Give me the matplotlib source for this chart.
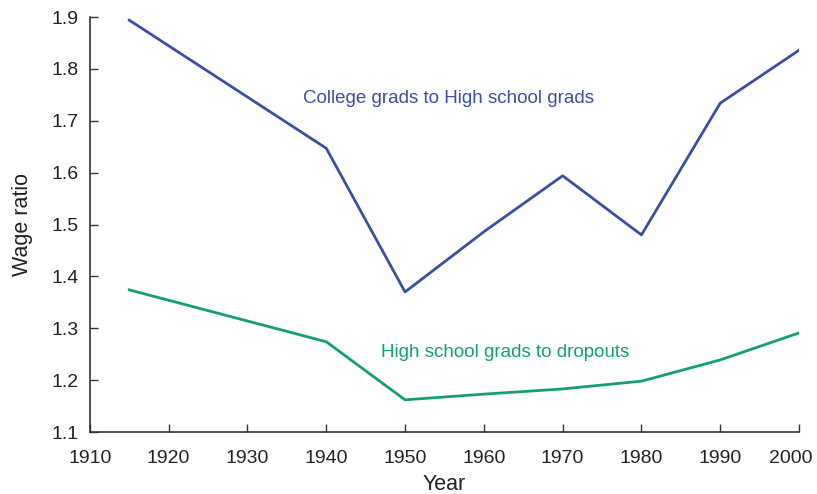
import matplotlib.pyplot as plt
from matplotlib.transforms import ScaledTranslation

plt.rcParams['font.family'] = ['Liberation Sans', 'DejaVu Sans']

# Data
years_college = [1915, 1940, 1950, 1960, 1970, 1980, 1990, 2000]
college_ratio = [1.894, 1.647, 1.370, 1.486, 1.594, 1.480, 1.734, 1.836]

years_hs = [1915, 1940, 1950, 1960, 1970, 1980, 1990, 2000]
hs_ratio = [1.374, 1.274, 1.162, 1.173, 1.183, 1.198, 1.239, 1.291]

blue = '#3a4fa0'
green = '#14a06c'

fig = plt.figure(figsize=(8.17, 4.94), dpi=100)
ax = fig.add_axes([0.110, 0.1255, 0.868, 0.84])

ax.plot(years_college, college_ratio, color=blue, linewidth=2)
ax.plot(years_hs, hs_ratio, color=green, linewidth=2)

ax.text(1937, 1.742, "College grads to High school grads", color=blue,
        fontsize=13.5, va='center', ha='left')
ax.text(1947, 1.254, "High school grads to dropouts", color=green,
        fontsize=13.5, va='center', ha='left')

ax.set_xlim(1910, 2000)
ax.set_ylim(1.1, 1.9)
ax.set_xticks(range(1910, 2001, 10))
ax.set_yticks([1.1, 1.2, 1.3, 1.4, 1.5, 1.6, 1.7, 1.8, 1.9])
ax.set_yticklabels(['1.1', '1.2', '1.3', '1.4', '1.5', '1.6', '1.7', '1.8', '1.9'])

for side in ['top', 'right']:
    ax.spines[side].set_visible(False)
for side in ['left', 'bottom']:
    ax.spines[side].set_color('#333333')
    ax.spines[side].set_linewidth(1.2)

ax.tick_params(direction='in', length=6, width=1, color='#333333',
               labelsize=14, labelcolor='#222222')
ax.tick_params(axis='x', pad=13)
ax.tick_params(axis='y', pad=8)

# keep the last year label inside the figure
last = ax.get_xticklabels()[-1]
last.set_transform(last.get_transform() + ScaledTranslation(-6 / 72, 0, fig.dpi_scale_trans))

ax.set_xlabel("Year", fontsize=15.5, color='#222222', labelpad=5)
ax.set_ylabel("Wage ratio", fontsize=15.5, color='#222222', labelpad=13)

fig.savefig('out.png', dpi=100)
